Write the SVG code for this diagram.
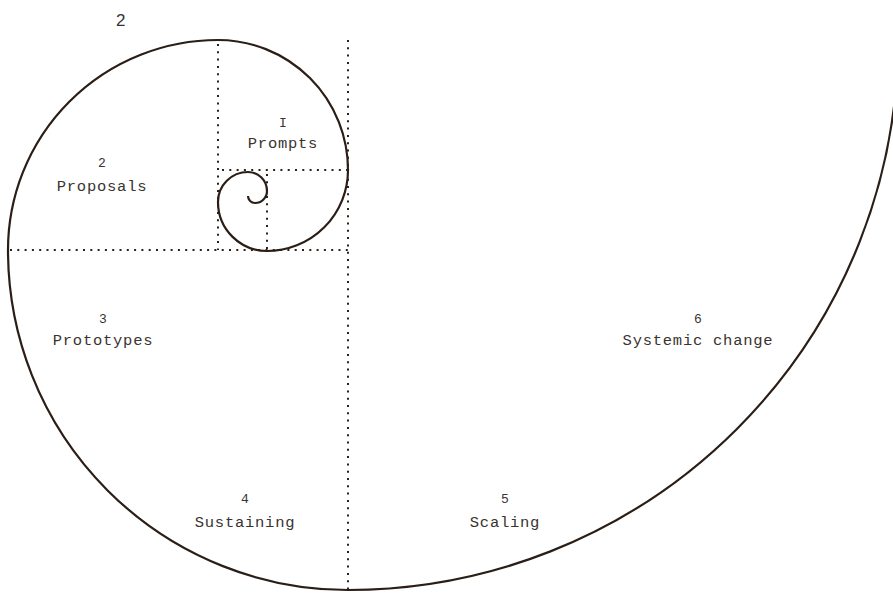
<svg xmlns="http://www.w3.org/2000/svg" width="893" height="595" viewBox="0 0 893 595">
<style>
.dot{stroke:#2a211b;stroke-width:2;stroke-dasharray:2 5.3;fill:none}
.sp{stroke:#2a1e16;stroke-width:2.2;fill:none}
.num{font-family:"Liberation Mono","DejaVu Sans Mono",monospace;font-size:13px;fill:#3a3330;text-anchor:middle}
.lbl{font-family:"Liberation Mono","DejaVu Sans Mono",monospace;font-size:15.5px;fill:#3a3330;text-anchor:middle;letter-spacing:0.75px}
</style>
<rect width="893" height="595" fill="#ffffff"/>
<text x="116" y="26" font-family="Liberation Sans, Arial, sans-serif" font-size="17" fill="#333">2</text>
<g id="connectors">
<line class="dot" x1="348" y1="40" x2="348" y2="590"/>
<line class="dot" x1="10" y1="250" x2="348" y2="250"/>
<line class="dot" x1="218" y1="44" x2="218" y2="250"/>
<line class="dot" x1="222" y1="170" x2="348" y2="170"/>
<line class="dot" x1="267" y1="174" x2="267" y2="250"/>
<path class="sp" d="M 898 40 A 550 550 0 0 1 348 590 A 340 340 0 0 1 8 250 A 210 210 0 0 1 218 40 A 130 130 0 0 1 348 170 A 81 81 0 0 1 267 251 A 49 49 0 0 1 218 202 A 30 30 0 0 1 248 172 A 19 19 0 0 1 267 191 A 12 12 0 0 1 255 203 A 7 7 0 0 1 248 196"/>
</g>
<g id="n1"><text class="num" x="283" y="127">I</text><text class="lbl" x="283" y="148">Prompts</text></g>
<g id="n2"><text class="num" x="102" y="167">2</text><text class="lbl" x="102" y="191">Proposals</text></g>
<g id="n3"><text class="num" x="103" y="323">3</text><text class="lbl" x="103" y="345">Prototypes</text></g>
<g id="n4"><text class="num" x="245" y="503">4</text><text class="lbl" x="245" y="527">Sustaining</text></g>
<g id="n5"><text class="num" x="505" y="503">5</text><text class="lbl" x="505" y="527">Scaling</text></g>
<g id="n6"><text class="num" x="698" y="323">6</text><text class="lbl" x="698" y="345">Systemic change</text></g>
</svg>
